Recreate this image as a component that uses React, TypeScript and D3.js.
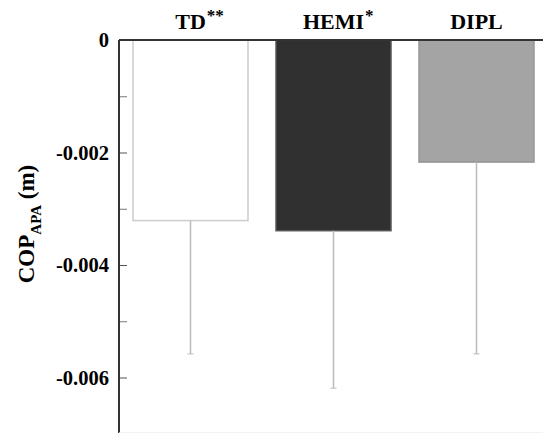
import React, { useEffect, useRef } from 'react';
import * as d3 from 'd3';

const groups = ['TD', 'HEMI', 'DIPL'];
const marks = ['**', '*', ''];
const means = [-0.00321, -0.00339, -0.00217];
const errLow = [-0.00558, -0.00619, -0.00558];
const yTicks = [0, -0.002, -0.004, -0.006];
const yMinor = [-0.001, -0.003, -0.005, -0.007];
const fills = ['#ffffff', '#303030', '#a4a4a4'];
const strokes = ['#cccccc', '#555555', '#959595'];

const App = () => {
  const ref = useRef<SVGSVGElement>(null);

  useEffect(() => {
    const svg = d3.select(ref.current);
    svg.selectAll('*').remove();
    const font = '"Liberation Serif", "Times New Roman", serif';

    const left = 119;
    const top = 40;

    const x = d3.scaleBand<string>()
      .domain(groups)
      .range([left, left + 3 * 143])
      .paddingInner(0.196)
      .paddingOuter(0.098);

    const y = d3.scaleLinear()
      .domain([0, -0.007])
      .range([top, top + 393.75]);

    // bars
    svg.selectAll('rect.bar')
      .data(groups)
      .enter()
      .append('rect')
      .attr('x', d => x(d)!)
      .attr('y', top)
      .attr('width', x.bandwidth())
      .attr('height', (d, i) => y(means[i]) - top)
      .attr('fill', (d, i) => fills[i])
      .attr('stroke', (d, i) => strokes[i])
      .attr('stroke-width', 1.5);

    // error bars
    const eb = svg.selectAll('g.err')
      .data(groups)
      .enter()
      .append('g');
    eb.append('line')
      .attr('x1', d => x(d)! + x.bandwidth() / 2)
      .attr('x2', d => x(d)! + x.bandwidth() / 2)
      .attr('y1', (d, i) => y(means[i]))
      .attr('y2', (d, i) => y(errLow[i]))
      .attr('stroke', '#bbbbbb')
      .attr('stroke-width', 1.5);
    eb.append('line')
      .attr('x1', d => x(d)! + x.bandwidth() / 2 - 3)
      .attr('x2', d => x(d)! + x.bandwidth() / 2 + 3)
      .attr('y1', (d, i) => y(errLow[i]))
      .attr('y2', (d, i) => y(errLow[i]))
      .attr('stroke', '#bbbbbb')
      .attr('stroke-width', 1);

    // left axis
    const axis = svg.append('g')
      .attr('transform', `translate(${left},0)`)
      .call(d3.axisRight(y).tickValues(yTicks).tickSize(8).tickFormat(() => ''));
    axis.select('.domain').remove();
    axis.selectAll('line').attr('stroke', '#555').attr('stroke-width', 1);

    const minor = svg.append('g')
      .attr('transform', `translate(${left},0)`)
      .call(d3.axisRight(y).tickValues(yMinor).tickSize(8).tickFormat(() => ''));
    minor.select('.domain').remove();
    minor.selectAll('line').attr('stroke', '#777').attr('stroke-width', 1);

    svg.append('line')
      .attr('x1', left).attr('x2', left)
      .attr('y1', top).attr('y2', y(-0.007))
      .attr('stroke', '#333').attr('stroke-width', 2);
    svg.append('line')
      .attr('x1', left).attr('x2', 543)
      .attr('y1', top).attr('y2', top)
      .attr('stroke', '#333').attr('stroke-width', 2);
    svg.append('line')
      .attr('x1', left).attr('x2', 543)
      .attr('y1', y(-0.007) - 1).attr('y2', y(-0.007) - 1)
      .attr('stroke', '#eeeeee').attr('stroke-width', 1);

    // y tick labels
    svg.selectAll('text.yt')
      .data(yTicks)
      .enter()
      .append('text')
      .attr('x', 109)
      .attr('y', d => y(d))
      .attr('dy', '0.35em')
      .attr('text-anchor', 'end')
      .attr('font-family', font)
      .attr('font-weight', 'bold')
      .attr('font-size', 20.5)
      .text(d => (d === 0 ? '0' : d3.format('.3f')(d).replace('−', '-')));

    // group labels: base text centred on the bar, marks appended after it
    groups.forEach((g, i) => {
      const cx = x(g)! + x.bandwidth() / 2;
      const base = svg.append('text')
        .attr('x', cx)
        .attr('y', 29)
        .attr('text-anchor', 'middle')
        .attr('font-family', font)
        .attr('font-weight', 'bold')
        .attr('font-size', 22)
        .text(g);
      const w = (base.node() as SVGTextElement).getComputedTextLength();
      if (marks[i]) {
        svg.append('text')
          .attr('x', cx + w / 2 + 1)
          .attr('y', 21)
          .attr('font-family', font)
          .attr('font-weight', 'bold')
          .attr('font-size', 17)
          .text(marks[i]);
      }
    });

    // y title
    const t = svg.append('text')
      .attr('transform', 'translate(34,224) rotate(-90)')
      .attr('text-anchor', 'middle')
      .attr('font-family', font)
      .attr('font-weight', 'bold')
      .attr('font-size', 23);
    t.append('tspan').text('COP');
    t.append('tspan').attr('font-size', 15).attr('dy', 7).text('APA');
    t.append('tspan').attr('dy', -7).text(' (m)');
  }, []);

  return (
    <svg
      ref={ref}
      width={543}
      height={433}
      style={{ position: 'absolute', left: 0, top: 0, background: '#fff' }}
    />
  );
};

export default App;
